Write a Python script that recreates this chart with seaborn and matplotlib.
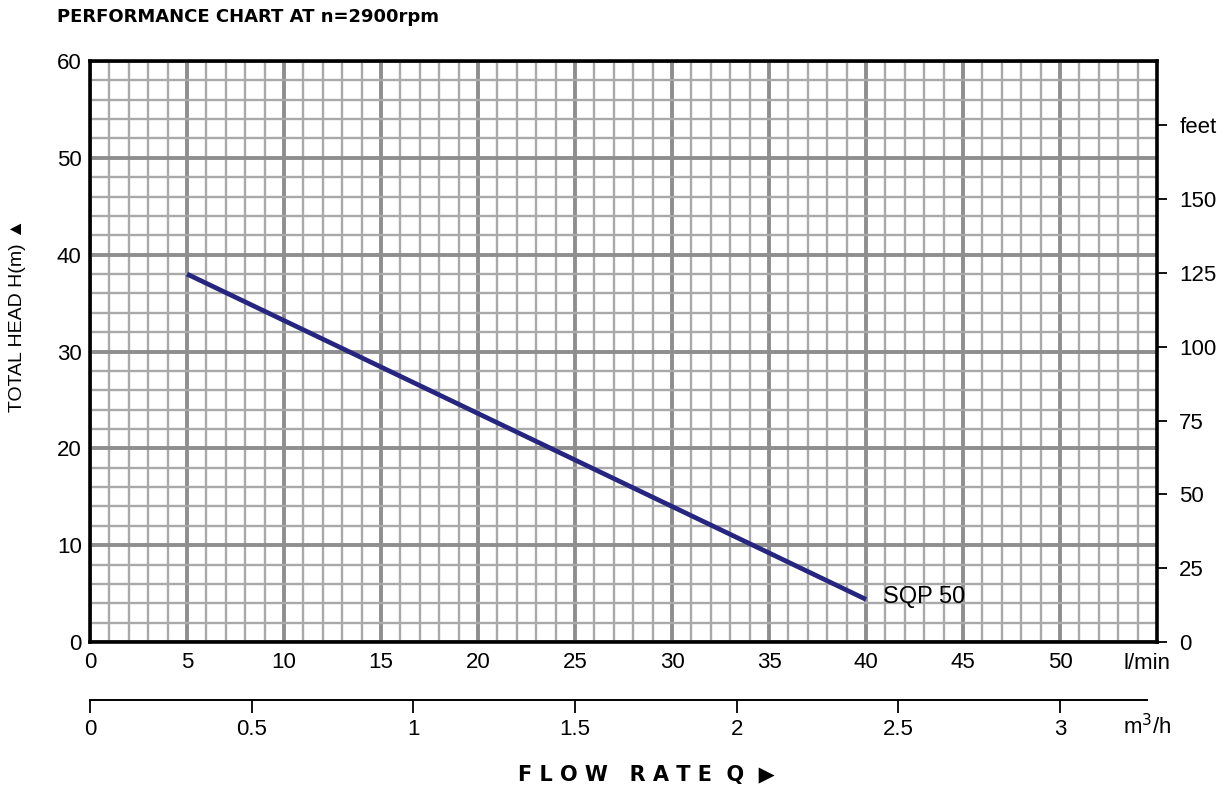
import numpy as np
import pandas as pd
import matplotlib
matplotlib.use("Agg")
import matplotlib.pyplot as plt
from matplotlib.ticker import MultipleLocator
import seaborn as sns

# --------------------------
# Data
# --------------------------
model = "SQP 50"
flow_lpm = [5, 40]          # l/min
head_m = [38.0, 4.4]        # m
x_ticks_lpm = [0, 5, 10, 15, 20, 25, 30, 35, 40, 45, 50]
y_ticks_m = [0, 10, 20, 30, 40, 50, 60]
feet_ticks = [0, 25, 50, 75, 100, 125, 150, 175]
feet_labels = ["0", "25", "50", "75", "100", "125", "150", "feet"]
m3h_ticks = [0, 0.5, 1, 1.5, 2, 2.5, 3]
m3h_labels = ["0", "0.5", "1", "1.5", "2", "2.5", "3"]

LPM_PER_M3H = 1000 / 60
M_PER_FT = 0.3048
X_MAX = 55
Y_MAX = 60
FS = 16

df = pd.DataFrame({"flow": flow_lpm, "head": head_m, "model": model})

sns.set_style("white")
plt.rcParams["font.family"] = ["Liberation Sans", "DejaVu Sans"]
plt.rcParams["text.color"] = "black"
plt.rcParams["xtick.color"] = "black"
plt.rcParams["ytick.color"] = "black"

fig = plt.figure(figsize=(12.3, 7.86), dpi=100)
ax = fig.add_axes([90 / 1230, 144 / 786, 1067 / 1230, 581 / 786])

# grid
ax.set_xlim(0, X_MAX)
ax.set_ylim(0, Y_MAX)
ax.xaxis.set_major_locator(MultipleLocator(5))
ax.xaxis.set_minor_locator(MultipleLocator(1))
ax.yaxis.set_major_locator(MultipleLocator(10))
ax.yaxis.set_minor_locator(MultipleLocator(2))
ax.grid(which="minor", color="#a9a9a9", lw=1.7)
ax.grid(which="major", color="#8e8e8e", lw=2.8)
ax.set_axisbelow(True)

sns.lineplot(data=df, x="flow", y="head", color="#262680", lw=3.4,
             ax=ax, legend=False, solid_capstyle="butt")
ax.text(40.9, 4.6, model, fontsize=17, va="center", ha="left")

ax.set_xticks(x_ticks_lpm)
ax.set_yticks(y_ticks_m)
ax.tick_params(which="both", length=0, labelsize=FS)
ax.tick_params(axis="x", pad=7)
ax.tick_params(axis="y", pad=6)
ax.set_xlabel("")
ax.set_ylabel("")
for sp in ax.spines.values():
    sp.set_visible(True)
    sp.set_color("black")
    sp.set_linewidth(2.6)
ax.text(54.5, -2.2, "l/min", fontsize=FS, ha="center", va="center",
        transform=ax.transData, clip_on=False)

# right axis in feet
axr = ax.twinx()
axr.set_ylim(0, Y_MAX / M_PER_FT)
axr.set_yticks(feet_ticks)
axr.set_yticklabels(feet_labels)
axr.tick_params(axis="y", right=True, length=7, width=1.3, labelsize=FS,
                pad=9, direction="out", color="black")
axr.grid(False)
for sp in axr.spines.values():
    sp.set_visible(False)

# secondary flow axis in m3/h
axm = fig.add_axes([90 / 1230, 86 / 786, 1067 / 1230, 0.001])
axm.set_xlim(0, X_MAX / LPM_PER_M3H)
axm.set_facecolor("none")
for name, sp in axm.spines.items():
    sp.set_visible(name == "bottom")
axm.spines["bottom"].set_color("black")
axm.spines["bottom"].set_linewidth(1.4)
axm.spines["bottom"].set_bounds(0, 54.5 / LPM_PER_M3H)
axm.set_yticks([])
axm.set_xticks(m3h_ticks)
axm.set_xticklabels(m3h_labels)
axm.tick_params(axis="x", bottom=True, length=9.5, width=1.3,
                direction="out", labelsize=FS, pad=4)
axm.text(54.5 / LPM_PER_M3H, 1 - 727 / 786, "m$^3$/h", fontsize=FS,
         ha="center", va="center",
         transform=matplotlib.transforms.blended_transform_factory(
             axm.transData, fig.transFigure))

# titles
fig.text(57 / 1230, 1 - 17 / 786, "PERFORMANCE CHART AT n=2900rpm",
         fontsize=13, fontweight="bold", family="DejaVu Sans",
         ha="left", va="center")
fig.text(18 / 1230, 1 - 315 / 786, "TOTAL HEAD H(m) \u25B2", fontsize=14,
         rotation=90, ha="center", va="center")
fig.text(646 / 1230, 1 - 775 / 786, "F L O W   R A T E  Q  \u25B6",
         fontsize=15, fontweight="bold", ha="center", va="center",
         family=["DejaVu Sans"])

fig.savefig("out.png", dpi=100)
